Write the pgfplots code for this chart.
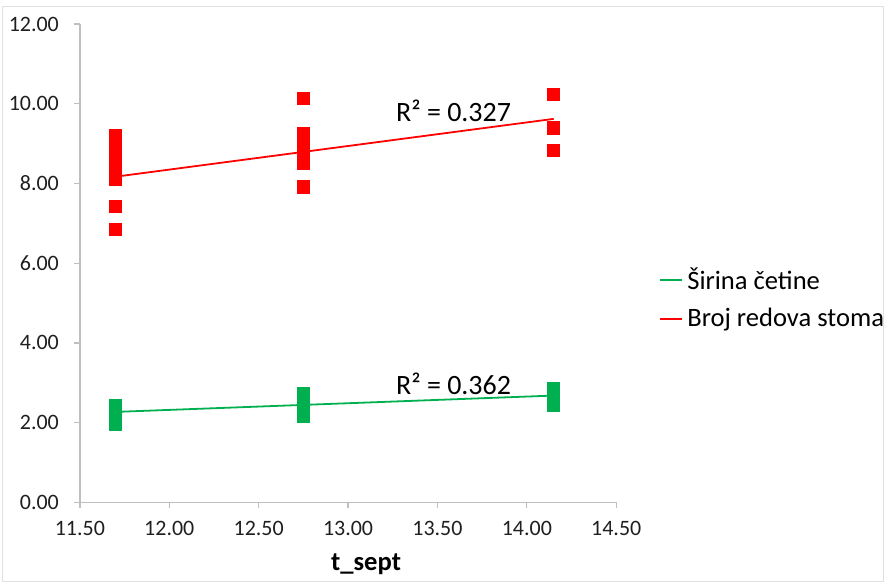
\documentclass[border=0pt]{standalone}
\usepackage{fontspec}
\setmainfont{Carlito}
\usepackage{pgfplots}
\pgfplotsset{compat=1.18}
\definecolor{xlgreen}{HTML}{00B050}
\definecolor{xlred}{HTML}{FF0000}
\definecolor{axgray}{HTML}{BFBFBF}
\begin{document}
\begin{tikzpicture}
\begin{axis}[
  at={(0,0)}, anchor=south west,
  scale only axis,
  width=268.5pt, height=239.5pt,
  xmin=11.5, xmax=14.5, ymin=0, ymax=12,
  xtick={11.5,12,12.5,13,13.5,14,14.5},
  ytick={0,2,4,6,8,10,12},
  axis x line*=bottom, axis y line*=left,
  axis line style={draw=axgray, line width=0.6pt},
  tick style={draw=axgray, line width=0.6pt},
  tick align=outside, major tick length=3pt,
  /pgf/number format/assume math mode=true,
  /pgf/number format/.cd, fixed, fixed zerofill, precision=2, /pgfplots/.cd,
  ticklabel style={font=\fontsize{11}{13}\selectfont, text=black!88},
  xticklabel style={yshift=-3pt},
  yticklabel style={xshift=-4pt},
  xlabel={\textbf{t\_sept}},
  xlabel style={font=\fontsize{13.3}{15}\selectfont, xshift=9pt, yshift=-2pt},
  legend style={draw=none, fill=none, at={(1.08,0.426)}, anchor=west,
    font=\fontsize{13.3}{16}\selectfont, row sep=4pt,
    legend cell align=left, inner sep=0pt},
  legend image code/.code={\draw[#1] (0pt,0pt) -- (11pt,0pt);},
  clip=false,
]
% scatter points (not in legend)
\addplot[only marks, mark=square*, mark size=3.1pt, color=xlgreen, forget plot] coordinates {
  (11.70,1.95) (11.70,2.05) (11.70,2.15) (11.70,2.25) (11.70,2.35) (11.70,2.43)
  (12.75,2.16) (12.75,2.26) (12.75,2.36) (12.75,2.46) (12.75,2.56) (12.75,2.66) (12.75,2.73)
  (14.15,2.43) (14.15,2.53) (14.15,2.63) (14.15,2.73) (14.15,2.81) (14.15,2.86)
};
\addplot[only marks, mark=square*, mark size=3.1pt, color=xlred, forget plot] coordinates {
  (11.70,6.84) (11.70,7.43)
  (11.70,8.10) (11.70,8.20) (11.70,8.30) (11.70,8.40) (11.70,8.50) (11.70,8.60)
  (11.70,8.70) (11.70,8.80) (11.70,8.90) (11.70,9.00) (11.70,9.10) (11.70,9.20)
  (12.75,7.91)
  (12.75,8.52) (12.75,8.65) (12.75,8.75) (12.75,8.85) (12.75,8.95) (12.75,9.05)
  (12.75,9.15) (12.75,9.24)
  (12.75,10.14)
  (14.15,8.83) (14.15,9.39) (14.15,10.23)
};
% trendlines
\addplot[color=xlgreen, line width=0.9pt] coordinates {(11.70,2.27) (14.15,2.68)};
\addlegendentry{Širina četine}
\addplot[color=xlred, line width=0.9pt] coordinates {(11.70,8.17) (14.15,9.62)};
\addlegendentry{Broj redova stoma}
\node[font=\fontsize{14}{16}\selectfont] at (axis cs:13.59,9.82) {R² = 0.327};
\node[font=\fontsize{14}{16}\selectfont] at (axis cs:13.59,2.98) {R² = 0.362};
\end{axis}
\draw[draw=black!12, line width=0.5pt] (-38.5pt,-39.5pt) rectangle (402.5pt,248pt);
\path (-40pt,-41pt) rectangle (404pt,251.5pt);
\end{tikzpicture}
\end{document}
